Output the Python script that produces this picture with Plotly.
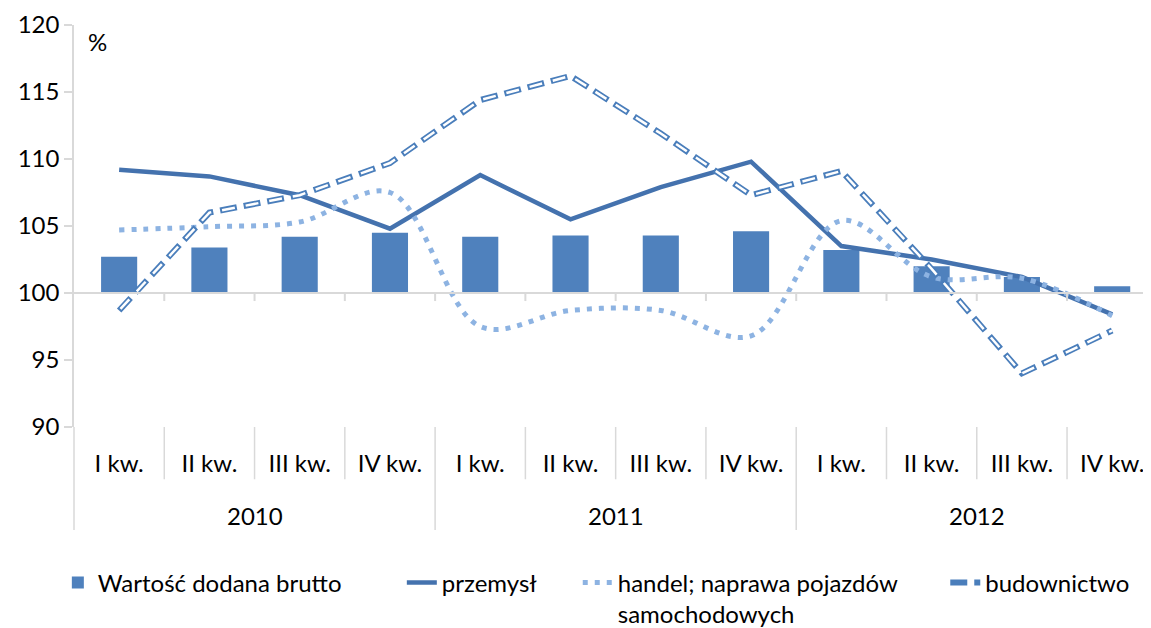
import plotly.graph_objects as go

years = ["2010", "2011", "2012"]
quarters = ["I kw.", "II kw.", "III kw.", "IV kw."] * 3

wartosc = [102.7, 103.4, 104.2, 104.5, 104.2, 104.3, 104.3, 104.6, 103.2, 102.0, 101.2, 100.5]
przemysl = [109.2, 108.7, 107.3, 104.8, 108.8, 105.5, 107.9, 109.8, 103.5, 102.5, 101.2, 98.4]
handel = [104.7, 104.95, 105.3, 107.5, 97.5, 98.7, 98.7, 96.8, 105.4, 101.2, 101.1, 98.3]
budownictwo = [98.7, 106.0, 107.3, 109.7, 114.4, 116.2, 111.9, 107.3, 109.1, 101.8, 94.0, 97.2]

x = list(range(len(quarters)))
font = "Lato, Open Sans, sans-serif"
grey = "#D9D9D9"
sp = "\u00a0"  # extra room between legend entries

fig = go.Figure()
fig.add_trace(go.Bar(
    x=x, y=[v - 100 for v in wartosc], base=100, name="Wartość dodana brutto" + sp * 9,
    marker=dict(color="#4F81BD", line=dict(width=0)), width=0.4,
))
fig.add_trace(go.Scatter(
    x=x, y=przemysl, mode="lines", name="przemysł" + sp * 6,
    line=dict(color="#4472AE", width=4.5),
))
fig.add_trace(go.Scatter(
    x=x, y=handel, mode="lines", name="handel; naprawa pojazdów" + sp * 7 + "<br>samochodowych",
    line=dict(color="#8DB3E2", width=5, dash="5px,7px", shape="spline", smoothing=1),
))
fig.add_trace(go.Scatter(
    x=x, y=budownictwo, mode="lines", name="budownictwo",
    line=dict(color="#4A7EBB", width=6, dash="17px,7px"), legendgroup="bud",
))
fig.add_trace(go.Scatter(
    x=x, y=budownictwo, mode="lines", showlegend=False, legendgroup="bud",
    line=dict(color="white", width=2.5, dash="0px,2px,13px,9px"), hoverinfo="skip",
))

# x range stretched so the categories keep the original spacing
r0, r1 = -0.5, 11.43


def xp(v):
    return (v - r0) / (r1 - r0)


shapes = [
    dict(type="line", xref="paper", yref="y", x0=0, x1=1, y0=100, y1=100,
         line=dict(color=grey, width=2)),
    dict(type="line", xref="paper", yref="paper", x0=0, x1=0, y0=0, y1=-0.256,
         line=dict(color=grey, width=1.5)),
]
for k in range(1, len(quarters)):
    shapes.append(dict(type="line", xref="paper", yref="y", x0=xp(k - 0.5), x1=xp(k - 0.5),
                       y0=100, y1=99.4, line=dict(color=grey, width=2)))
    shapes.append(dict(type="line", xref="paper", yref="paper", x0=xp(k - 0.5), x1=xp(k - 0.5),
                       y0=0, y1=-0.256 if k % 4 == 0 else -0.13, line=dict(color=grey, width=1.5)))

annotations = [dict(text="%", xref="paper", yref="paper", x=0.011, y=0.958, showarrow=False,
                    xanchor="left", yanchor="middle", font=dict(size=24))]
for i, yr in enumerate(years):
    annotations.append(dict(text=yr, xref="x", yref="paper", x=i * 4 + 1.5, y=-0.219,
                            showarrow=False, yanchor="middle", font=dict(size=24)))

fig.update_layout(
    width=1143, height=620,
    margin=dict(l=66, r=0, t=17, b=201, autoexpand=False),
    plot_bgcolor="white", paper_bgcolor="white",
    font=dict(family=font, size=24, color="black"),
    shapes=shapes,
    annotations=annotations,
    showlegend=True,
    legend=dict(orientation="h", x=-0.015, y=-0.332, yanchor="top", xanchor="left",
                font=dict(size=24), traceorder="normal", valign="top", tracegroupgap=0),
)
fig.update_yaxes(range=[90, 120], dtick=5, showgrid=False, zeroline=False,
                 showline=True, linecolor=grey, linewidth=1.5,
                 ticks="outside", ticklen=8, tickcolor=grey, tickwidth=1.5)
fig.update_xaxes(range=[r0, r1], showgrid=False, zeroline=False, showline=False,
                 tickvals=x, ticktext=quarters,
                 ticks="outside", ticklen=15, tickcolor="rgba(0,0,0,0)")

fig.write_html("out.html")
